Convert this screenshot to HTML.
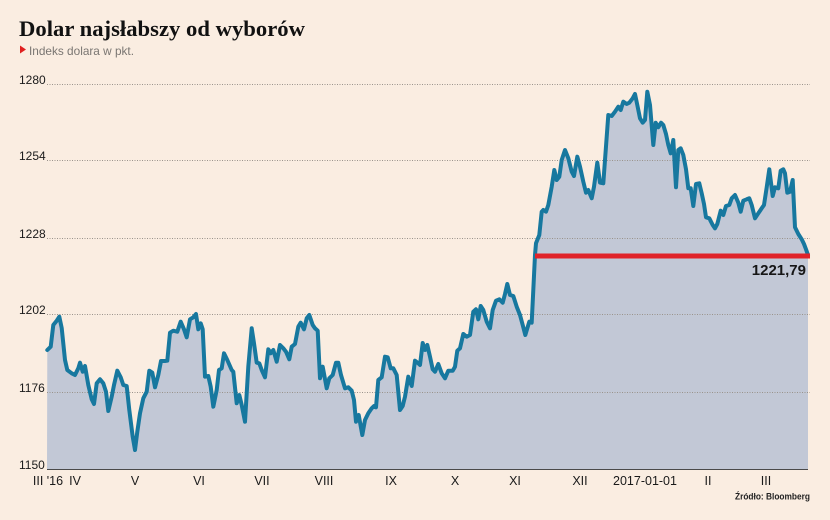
<!DOCTYPE html>
<html>
<head>
<meta charset="utf-8">
<style>
  html, body { margin: 0; padding: 0; background: #faede1; }
  body { width: 830px; height: 520px; overflow: hidden; }
  svg { display: block; }
  .ax { font-family: "Liberation Sans", sans-serif; fill: #1a1a1a; }
</style>
</head>
<body>
<svg width="830" height="520" viewBox="0 0 830 520" xmlns="http://www.w3.org/2000/svg">
  <rect x="0" y="0" width="830" height="520" fill="#faede1"/>

  <!-- Title -->
  <text x="19" y="36" font-family="'Liberation Serif', serif" font-weight="bold" font-size="22" fill="#111" textLength="286" lengthAdjust="spacingAndGlyphs">Dolar najsłabszy od wyborów</text>
  <polygon points="20,45.5 20,53.5 26,49.5" fill="#e0201f"/>
  <text x="29" y="55" font-family="'Liberation Sans', sans-serif" font-size="12" fill="#7a7672" textLength="105" lengthAdjust="spacingAndGlyphs">Indeks dolara w pkt.</text>

  <!-- Area fill -->
  <polygon fill="#c2c8d6" points="47,469 47.3,350 50.7,346.7 53.3,325 56.7,320.7 59.3,316.7 61.7,328 65,360 67.3,370 71.7,373.3 75,375 78.3,368.3 80,362.7 82.7,371.7 85,366 88.3,385 91.7,399.3 94,404 96.7,383.3 100,379.3 103.3,383.3 106,391.7 108.3,411 111.7,396.7 114,385 117.3,370.7 120.7,377.3 123.3,385 126.7,386 129.3,410 132.7,436.7 135,450 137.3,431.7 140,413.3 143.3,398.3 146.7,391.7 149.3,370.7 152.3,372.7 155,387.3 158.3,375 161,361 165,361 167.3,360.7 170,332.7 173.3,330.7 177.3,331.7 180.7,321.7 184,329.3 186.7,337.3 190,319.3 193.3,317.3 196,314 198.3,329.3 200.7,323.3 202.7,329.3 205,376.7 208.3,376 210.7,386.7 213.3,406.7 216.7,390 219,370 221.7,368.3 224,353.3 227.3,360 231.7,370 233.3,371.7 236.7,403.3 239.3,395 241.7,405 245,421.7 248.3,366.7 251.7,328.3 254,343.3 256.7,362.7 259.3,363.3 261.7,370 265,377.3 268.3,349.3 270.7,353.3 273.3,350 276.7,361.7 280,345 283.3,348.3 286,351.7 289.3,359.3 291.7,346.7 295,344 298.3,326.7 300.7,322.7 304,329.3 306.7,318.3 309.3,315 312.7,325 315,328.3 317.7,330.7 320,378.3 322.7,366.7 326.7,388.3 329.3,378.3 332.7,375 336,362.7 338.3,362.7 341,375 345,388.3 348.3,387.3 351.7,390.7 354,400 356,421.7 358.7,415 362.3,435 365,420 368.3,413.3 371.7,408.3 374,406 376,407.3 378.3,380 381.7,377.3 385,356.7 387.7,357.3 390.7,368.3 393.3,368.3 396.7,375 400,410 402.7,406 405,396.7 408.3,376.7 411.7,386 415,360.7 418.3,363.3 420,365 422.7,343 425,350 427.3,345 430,356.7 432.7,369.3 435,371.7 438.3,364 441.7,373.3 445,378.3 448.3,370.7 452.7,370.7 455,366.7 457.3,350.7 460,348.3 463.3,334 466.7,336.7 470,335 473.3,311.7 476,309.3 478.3,319.3 480.7,306 483.3,310 486.7,321.7 490,328.3 492.7,310 496,300.7 499.3,299.3 502.7,302.7 505,294 507.3,284 510,295 513.3,296 516.7,306.7 520,315 522.7,325 525.3,335 527.3,328.3 529.3,321.7 531.7,322.7 533.3,290 535,255 536,243.3 539.3,235 541.7,211.7 543.3,210 546,211.7 548.3,205 551.7,186.7 554.3,170 556.7,180 559.3,176.7 561.7,160 565,150 568.3,158.3 571.7,171.7 574,176 577.3,156.7 580,166.7 583.3,181.7 586,192.7 588.3,190 591.7,198.3 594,186.7 597.3,162.7 600,182.7 603.3,183.3 605,160 608.3,115 611.7,116 615,111.7 618.3,106.7 620.7,110 623.3,101.7 626.7,104 629.3,102.7 632.7,98.3 635,94 637.3,105 640,118.3 642.7,122.7 645,120 647.3,91.7 650,105 653.3,145 655.7,122.7 658.3,127.3 661,122.7 663.3,125 666,134 668.3,145 670.7,153.3 673.3,140 676,187.3 678.3,150 680.7,148.3 683.3,155 686,169.3 688.3,188.3 690.7,188.3 693.3,206 696,184 699.3,183.3 701.7,193.3 704,204 706,217.3 709.3,218.3 712.7,225 715,228.3 717.3,224 720.7,210.7 723.3,215 726,206 729.3,205 731.7,198.3 735,195 738.3,202.7 740.7,211.7 743.3,200.7 746.7,199.3 749.3,198.3 751.7,205 755,218.3 758.3,213.3 761.7,208.3 764,205 766.7,187.3 769.3,169.3 772.7,196 775,187.3 778.3,188.3 780.7,170.7 783.3,169.3 785,173.3 787.3,192.7 790,191.7 792.7,180 795,227.3 798.3,234 801.7,239.3 804,244 806,249.3 808,255 808,469"/>

  <!-- Gridlines -->
  <g stroke="#9a938c" stroke-width="1" stroke-dasharray="1,1.5">
    <line x1="47" y1="84.5" x2="810" y2="84.5"/>
    <line x1="47" y1="160.5" x2="810" y2="160.5"/>
    <line x1="47" y1="238.5" x2="810" y2="238.5"/>
    <line x1="47" y1="314.5" x2="810" y2="314.5"/>
    <line x1="47" y1="392.5" x2="810" y2="392.5"/>
  </g>
  <line x1="47" y1="469.5" x2="808" y2="469.5" stroke="#4a4a4a" stroke-width="1"/>

  <!-- Series line -->
  <polyline fill="none" stroke="#17789f" stroke-width="4" stroke-linejoin="round" stroke-linecap="round" points="47.3,350 50.7,346.7 53.3,325 56.7,320.7 59.3,316.7 61.7,328 65,360 67.3,370 71.7,373.3 75,375 78.3,368.3 80,362.7 82.7,371.7 85,366 88.3,385 91.7,399.3 94,404 96.7,383.3 100,379.3 103.3,383.3 106,391.7 108.3,411 111.7,396.7 114,385 117.3,370.7 120.7,377.3 123.3,385 126.7,386 129.3,410 132.7,436.7 135,450 137.3,431.7 140,413.3 143.3,398.3 146.7,391.7 149.3,370.7 152.3,372.7 155,387.3 158.3,375 161,361 165,361 167.3,360.7 170,332.7 173.3,330.7 177.3,331.7 180.7,321.7 184,329.3 186.7,337.3 190,319.3 193.3,317.3 196,314 198.3,329.3 200.7,323.3 202.7,329.3 205,376.7 208.3,376 210.7,386.7 213.3,406.7 216.7,390 219,370 221.7,368.3 224,353.3 227.3,360 231.7,370 233.3,371.7 236.7,403.3 239.3,395 241.7,405 245,421.7 248.3,366.7 251.7,328.3 254,343.3 256.7,362.7 259.3,363.3 261.7,370 265,377.3 268.3,349.3 270.7,353.3 273.3,350 276.7,361.7 280,345 283.3,348.3 286,351.7 289.3,359.3 291.7,346.7 295,344 298.3,326.7 300.7,322.7 304,329.3 306.7,318.3 309.3,315 312.7,325 315,328.3 317.7,330.7 320,378.3 322.7,366.7 326.7,388.3 329.3,378.3 332.7,375 336,362.7 338.3,362.7 341,375 345,388.3 348.3,387.3 351.7,390.7 354,400 356,421.7 358.7,415 362.3,435 365,420 368.3,413.3 371.7,408.3 374,406 376,407.3 378.3,380 381.7,377.3 385,356.7 387.7,357.3 390.7,368.3 393.3,368.3 396.7,375 400,410 402.7,406 405,396.7 408.3,376.7 411.7,386 415,360.7 418.3,363.3 420,365 422.7,343 425,350 427.3,345 430,356.7 432.7,369.3 435,371.7 438.3,364 441.7,373.3 445,378.3 448.3,370.7 452.7,370.7 455,366.7 457.3,350.7 460,348.3 463.3,334 466.7,336.7 470,335 473.3,311.7 476,309.3 478.3,319.3 480.7,306 483.3,310 486.7,321.7 490,328.3 492.7,310 496,300.7 499.3,299.3 502.7,302.7 505,294 507.3,284 510,295 513.3,296 516.7,306.7 520,315 522.7,325 525.3,335 527.3,328.3 529.3,321.7 531.7,322.7 533.3,290 535,255 536,243.3 539.3,235 541.7,211.7 543.3,210 546,211.7 548.3,205 551.7,186.7 554.3,170 556.7,180 559.3,176.7 561.7,160 565,150 568.3,158.3 571.7,171.7 574,176 577.3,156.7 580,166.7 583.3,181.7 586,192.7 588.3,190 591.7,198.3 594,186.7 597.3,162.7 600,182.7 603.3,183.3 605,160 608.3,115 611.7,116 615,111.7 618.3,106.7 620.7,110 623.3,101.7 626.7,104 629.3,102.7 632.7,98.3 635,94 637.3,105 640,118.3 642.7,122.7 645,120 647.3,91.7 650,105 653.3,145 655.7,122.7 658.3,127.3 661,122.7 663.3,125 666,134 668.3,145 670.7,153.3 673.3,140 676,187.3 678.3,150 680.7,148.3 683.3,155 686,169.3 688.3,188.3 690.7,188.3 693.3,206 696,184 699.3,183.3 701.7,193.3 704,204 706,217.3 709.3,218.3 712.7,225 715,228.3 717.3,224 720.7,210.7 723.3,215 726,206 729.3,205 731.7,198.3 735,195 738.3,202.7 740.7,211.7 743.3,200.7 746.7,199.3 749.3,198.3 751.7,205 755,218.3 758.3,213.3 761.7,208.3 764,205 766.7,187.3 769.3,169.3 772.7,196 775,187.3 778.3,188.3 780.7,170.7 783.3,169.3 785,173.3 787.3,192.7 790,191.7 792.7,180 795,227.3 798.3,234 801.7,239.3 804,244 806,249.3 808,255"/>

  <!-- Red reference line -->
  <line x1="535" y1="256" x2="810" y2="256" stroke="#e0232a" stroke-width="5"/>
  <text x="806" y="275" text-anchor="end" font-family="'Liberation Sans', sans-serif" font-weight="bold" font-size="15" fill="#161616">1221,79</text>

  <!-- Y axis labels -->
  <g class="ax" font-size="12">
    <text x="19" y="84">1280</text>
    <text x="19" y="160">1254</text>
    <text x="19" y="238">1228</text>
    <text x="19" y="314">1202</text>
    <text x="19" y="392">1176</text>
    <text x="19" y="469">1150</text>
  </g>

  <!-- X axis labels -->
  <g class="ax" font-size="12.5" text-anchor="middle">
    <text x="48" y="485">III '16</text>
    <text x="75" y="485">IV</text>
    <text x="135" y="485">V</text>
    <text x="199" y="485">VI</text>
    <text x="262" y="485">VII</text>
    <text x="324" y="485">VIII</text>
    <text x="391" y="485">IX</text>
    <text x="455" y="485">X</text>
    <text x="515" y="485">XI</text>
    <text x="580" y="485">XII</text>
    <text x="645" y="485">2017-01-01</text>
    <text x="708" y="485">II</text>
    <text x="766" y="485">III</text>
  </g>

  <text x="735" y="499.5" font-family="'Liberation Sans', sans-serif" font-weight="bold" font-size="9" fill="#222" textLength="75" lengthAdjust="spacingAndGlyphs">Źródło: Bloomberg</text>
</svg>
</body>
</html>
